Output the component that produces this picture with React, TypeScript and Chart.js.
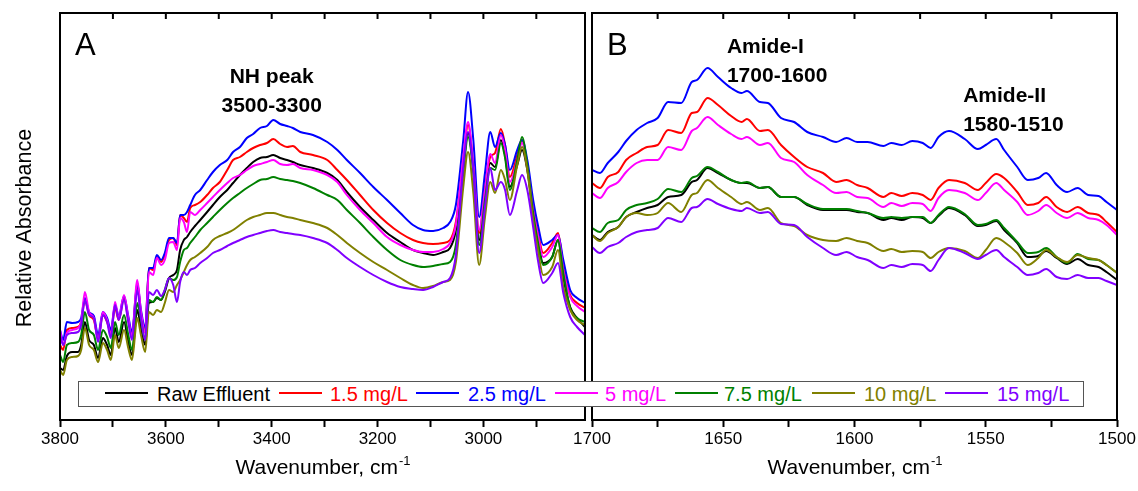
import React, { useEffect, useRef } from "react";
import { Chart, registerables } from "chart.js";

Chart.register(...registerables);

const FONT = '"Liberation Sans", Arial, Helvetica, sans-serif';

const seriesNames = ["Raw Effluent", "1.5 mg/L", "2.5 mg/L", "5 mg/L", "7.5 mg/L", "10 mg/L", "15 mg/L"];
const seriesColors = ["#000000", "#FF0000", "#0000FF", "#FF00FF", "#008000", "#808000", "#8000FF"];

// ---------- Panel A: 3800 - 2808 cm-1 (relative absorbance, arbitrary units) ----------
const ticksA = [3800, 3700, 3600, 3500, 3400, 3300, 3200, 3100, 3000, 2900];
const wavenumberA = [
  3800, 3794, 3787, 3777, 3766, 3760, 3753, 3745, 3736, 3728, 3719, 3711, 3704, 3696, 3689, 3679, 3671, 3664, 3654, 3647,
  3639, 3632, 3624, 3617, 3609, 3602, 3594, 3586, 3579, 3573, 3566, 3560, 3554, 3545, 3535,
  3522, 3511, 3498, 3484, 3473, 3460, 3447, 3435, 3422, 3409, 3397, 3384, 3371, 3360, 3346, 3322, 3295, 3276, 3258, 3233,
  3208, 3182, 3157, 3133, 3114, 3095, 3076, 3063, 3052, 3038, 3029, 3019, 3008, 2997, 2987, 2978, 2967, 2959, 2950, 2936,
  2927, 2917, 2906, 2897, 2887, 2870, 2859, 2849, 2836, 2823, 2808,
];
const rawA = [
  52, 50, 64, 68, 68, 75, 98, 80, 75, 62, 82, 75, 65, 92, 78, 98, 78, 65, 110, 92,
  75, 117, 118, 122, 120, 128, 142, 145, 150, 170, 180, 183, 188, 194, 200,
  208, 215, 223, 230, 237, 245, 252, 258, 262, 263, 265, 262, 260, 258, 255, 252, 247, 240, 228, 213,
  200, 187, 178, 170, 167, 165, 168, 172, 190, 253, 287, 250, 180, 227, 257, 253, 280, 265, 233, 255,
  270, 250, 207, 180, 157, 163, 180, 143, 113, 102, 93,
];
const dose1p5A = [
  75, 70, 90, 92, 93, 98, 120, 105, 100, 82, 105, 98, 87, 112, 100, 122, 100, 85, 135, 107,
  90, 152, 150, 163, 158, 165, 180, 182, 175, 205, 202, 198, 212, 215, 218,
  225, 232, 238, 250, 260, 263, 268, 272, 275, 277, 281, 276, 273, 274, 268, 265, 260, 250, 240, 225,
  210, 197, 187, 180, 177, 176, 177, 180, 198, 260, 295, 255, 187, 233, 263, 267, 291, 275, 243, 265,
  280, 253, 213, 188, 167, 177, 187, 153, 125, 117, 112,
];
const dose2p5A = [
  90, 80, 98, 97, 98, 102, 122, 108, 104, 85, 108, 102, 90, 115, 104, 124, 104, 88, 137, 110,
  92, 152, 152, 165, 160, 167, 182, 182, 177, 205, 205, 208, 215, 225, 230,
  240, 248, 255, 260, 268, 273, 282, 286, 292, 294, 300, 296, 294, 292, 288, 285, 278, 270, 260, 247,
  233, 220, 207, 195, 190, 189, 192, 198, 215, 280, 328, 280, 203, 247, 288, 273, 287, 275, 250, 270,
  280, 260, 220, 195, 175, 180, 185, 160, 130, 122, 117,
];
const dose5A = [
  90, 75, 87, 90, 92, 98, 128, 108, 102, 80, 108, 100, 85, 118, 102, 125, 102, 83, 140, 108,
  87, 148, 145, 162, 155, 160, 177, 178, 170, 202, 198, 188, 208, 205, 210,
  217, 223, 230, 237, 242, 245, 250, 254, 256, 258, 260, 256, 255, 256, 252, 250, 245, 238, 225, 210,
  197, 183, 175, 170, 168, 168, 171, 177, 195, 263, 298, 255, 190, 230, 266, 257, 285, 270, 238, 260,
  277, 253, 210, 185, 163, 173, 185, 150, 123, 114, 108,
];
const dose7p5A = [
  65, 58, 75, 77, 78, 85, 108, 90, 85, 70, 90, 83, 72, 98, 85, 105, 85, 70, 117, 100,
  80, 120, 118, 123, 120, 130, 142, 140, 143, 158, 170, 172, 177, 183, 190,
  197, 203, 210, 217, 222, 227, 232, 236, 240, 241, 243, 241, 240, 239, 237, 232, 225, 220, 210, 197,
  183, 170, 160, 155, 153, 154, 156, 158, 175, 247, 283, 248, 175, 220, 252, 250, 277, 262, 230, 260,
  283, 255, 207, 178, 155, 163, 180, 147, 112, 102, 98,
];
const dose10A = [
  50, 45, 60, 63, 64, 70, 92, 75, 70, 58, 77, 70, 60, 85, 72, 90, 72, 60, 102, 85,
  68, 108, 105, 110, 108, 117, 130, 128, 135, 140, 148, 155, 160, 163, 167,
  173, 180, 184, 187, 190, 195, 200, 203, 205, 207, 207, 205, 203, 202, 200, 197, 192, 185, 177, 167,
  158, 150, 142, 135, 132, 134, 138, 140, 158, 233, 268, 227, 155, 203, 238, 227, 250, 240, 220, 255,
  273, 250, 200, 170, 145, 153, 170, 133, 110, 100, 95,
];
const dose15A = [
  85, 75, 85, 87, 88, 95, 120, 105, 102, 78, 105, 98, 82, 115, 100, 120, 98, 80, 130, 102,
  80, 128, 125, 130, 124, 130, 142, 135, 118, 138, 148, 145, 150, 152, 157,
  162, 167, 170, 174, 177, 180, 183, 185, 187, 189, 190, 188, 187, 186, 185, 182, 177, 170, 162, 153,
  145, 138, 133, 131, 130, 133, 138, 142, 165, 253, 288, 250, 167, 213, 252, 230, 238, 230, 205, 230,
  245, 230, 193, 160, 137, 147, 157, 127, 103, 93, 85,
];

// ---------- Panel B: 1700 - 1500 cm-1 ----------
const ticksB = [1700, 1675, 1650, 1625, 1600, 1575, 1550, 1525, 1500];
const wavenumberB = [
  1700, 1697, 1694, 1690, 1687, 1683, 1679, 1675, 1671, 1666, 1662, 1660, 1656, 1652, 1647, 1643, 1641, 1636, 1633, 1628,
  1623, 1618, 1612, 1607, 1603, 1599, 1595, 1589, 1586, 1582, 1578, 1574, 1571, 1568, 1564, 1558, 1553, 1550, 1546, 1543,
  1538, 1534, 1530, 1527, 1523, 1519, 1515, 1511, 1507, 1504, 1500,
];
const rawB = [
  185, 180, 188, 193, 203, 208, 212, 215, 223, 225, 238, 240, 252, 247, 240, 237, 237, 232, 233, 223,
  223, 215, 210, 210, 210, 208, 207, 200, 202, 200, 203, 202, 197, 204, 212, 205, 194, 195, 199, 190,
  177, 163, 164, 169, 162, 156, 161, 155, 153, 148, 140,
];
const dose1p5B = [
  237, 232, 243, 248, 260, 267, 273, 275, 290, 287, 307, 308, 322, 315, 304, 298, 301, 289, 290, 275,
  263, 253, 247, 238, 240, 235, 232, 223, 227, 224, 227, 225, 220, 232, 240, 237, 230, 237, 246, 242,
  228, 215, 217, 223, 213, 208, 213, 207, 205, 198, 188,
];
const dose2p5B = [
  250, 247, 257, 268, 279, 290, 297, 302, 318, 317, 338, 340, 352, 343, 332, 327, 329, 318, 317, 302,
  298, 288, 283, 278, 282, 278, 278, 274, 277, 275, 279, 277, 272, 283, 289, 281, 271, 275, 281, 270,
  253, 240, 242, 247, 235, 228, 232, 225, 224, 218, 210,
];
const dose5B = [
  227, 222, 232, 238, 248, 257, 260, 260, 273, 270, 289, 292, 303, 295, 286, 281, 283, 275, 277, 262,
  258, 245, 235, 227, 228, 223, 222, 213, 217, 214, 217, 216, 209, 222, 230, 227, 220, 227, 237, 230,
  218, 205, 209, 215, 207, 202, 207, 202, 200, 195, 185,
];
const dose7p5B = [
  192, 188, 197, 200, 210, 215, 217, 221, 231, 228, 242, 244, 253, 248, 240, 237, 238, 232, 233, 223,
  223, 216, 211, 211, 211, 209, 207, 202, 203, 202, 203, 203, 197, 205, 213, 206, 195, 196, 200, 192,
  178, 167, 168, 172, 163, 157, 166, 161, 160, 155, 147,
];
const dose10B = [
  185, 179, 187, 193, 203, 207, 205, 207, 217, 208, 225, 227, 240, 232, 223, 216, 218, 210, 212, 197,
  194, 185, 180, 179, 182, 179, 177, 169, 171, 168, 169, 168, 162, 168, 172, 169, 162, 170, 182, 178,
  167, 155, 162, 170, 163, 158, 165, 162, 160, 155, 147,
];
const dose15B = [
  173, 167, 173, 177, 183, 188, 190, 192, 202, 198, 212, 213, 221, 216, 211, 209, 212, 207, 208, 196,
  195, 183, 172, 165, 168, 163, 160, 152, 155, 153, 156, 155, 149, 160, 172, 167, 161, 165, 170, 163,
  153, 145, 147, 151, 143, 141, 145, 142, 142, 139, 135,
];

const Y_MIN = 0;
const Y_MAX = 407;

type Note = { lines: string[]; x: number; y: number; align: CanvasTextAlign };
type Panel = {
  xs: number[];
  series: number[][];
  min: number;
  max: number;
  tickValues: number[];
  labelStep: number;
  padLeft: number;
  padRight: number;
  letter: string;
  notes: Note[];
  yTitle: boolean;
};

const panelA: Panel = {
  xs: wavenumberA,
  series: [rawA, dose1p5A, dose2p5A, dose5A, dose7p5A, dose10A, dose15A],
  min: 2808,
  max: 3800,
  tickValues: ticksA,
  labelStep: 200,
  padLeft: 60,
  padRight: 4,
  letter: "A",
  notes: [{ lines: ["NH peak", "3500-3300"], x: 3400, y: 337, align: "center" }],
  yTitle: true,
};

const panelB: Panel = {
  xs: wavenumberB,
  series: [rawB, dose1p5B, dose2p5B, dose5B, dose7p5B, dose10B, dose15B],
  min: 1500,
  max: 1700,
  tickValues: ticksB,
  labelStep: 50,
  padLeft: 32,
  padRight: 21,
  letter: "B",
  notes: [
    { lines: ["Amide-I", "1700-1600"], x: 1648.6, y: 367, align: "left" },
    { lines: ["Amide-II", "1580-1510"], x: 1558.6, y: 318, align: "left" },
  ],
  yTitle: false,
};

function decorPlugin(panel: Panel) {
  return {
    id: "panelDecor" + panel.letter,
    afterDatasetsDraw(chart: any) {
      const { ctx, chartArea: ca, scales } = chart;
      const xs = scales.x;
      const ys = scales.y;
      ctx.save();
      // frame
      ctx.strokeStyle = "#000";
      ctx.lineWidth = 2;
      ctx.strokeRect(ca.left, ca.top, ca.right - ca.left, ca.bottom - ca.top);
      // inward ticks on top
      ctx.beginPath();
      xs.ticks.forEach((t: any) => {
        const px = xs.getPixelForValue(t.value);
        ctx.moveTo(px, ca.top);
        ctx.lineTo(px, ca.top + 6);
      });
      ctx.stroke();
      // panel letter
      ctx.fillStyle = "#000";
      ctx.textBaseline = "alphabetic";
      ctx.textAlign = "left";
      ctx.font = `31px ${FONT}`;
      ctx.fillText(panel.letter, ca.left + 15, ca.top + 42);
      // annotations
      ctx.font = `bold 21px ${FONT}`;
      panel.notes.forEach((n) => {
        ctx.textAlign = n.align;
        const px = xs.getPixelForValue(n.x);
        const py = ys.getPixelForValue(n.y);
        n.lines.forEach((line, i) => ctx.fillText(line, px, py + i * 29));
      });
      // x title with superscript
      const main = "Wavenumber, cm";
      const sup = "-1";
      ctx.font = `21px ${FONT}`;
      const w1 = ctx.measureText(main).width;
      ctx.font = `13px ${FONT}`;
      const w2 = ctx.measureText(sup).width;
      const cx = (ca.left + ca.right) / 2;
      const x0 = cx - (w1 + w2) / 2;
      const base = ca.bottom + 54;
      ctx.textAlign = "left";
      ctx.font = `21px ${FONT}`;
      ctx.fillText(main, x0, base);
      ctx.font = `13px ${FONT}`;
      ctx.fillText(sup, x0 + w1 + 1, base - 9);
      // y title
      if (panel.yTitle) {
        ctx.save();
        ctx.translate(31, 228);
        ctx.rotate(-Math.PI / 2);
        ctx.textAlign = "center";
        ctx.font = `21.5px ${FONT}`;
        ctx.fillText("Relative Absorbance", 0, 0);
        ctx.restore();
      }
      ctx.restore();
    },
  };
}

function buildChart(canvas: HTMLCanvasElement, panel: Panel) {
  return new Chart(canvas, {
    type: "line",
    data: {
      datasets: panel.series.map((vals, i) => ({
        label: seriesNames[i],
        data: panel.xs.map((x, j) => ({ x, y: vals[j] })),
        borderColor: seriesColors[i],
        backgroundColor: seriesColors[i],
        borderWidth: 2,
        pointRadius: 0,
        cubicInterpolationMode: "monotone" as const,
        fill: false,
        order: seriesNames.length - 1 - i,
      })),
    },
    options: {
      animation: false,
      responsive: false,
      devicePixelRatio: 1,
      events: [],
      layout: { padding: { left: panel.padLeft, right: panel.padRight, top: 13, bottom: 0 } },
      plugins: { legend: { display: false }, tooltip: { enabled: false } },
      scales: {
        x: {
          type: "linear",
          reverse: true,
          min: panel.min,
          max: panel.max,
          afterBuildTicks: (s: any) => {
            s.ticks = panel.tickValues.map((v) => ({ value: v }));
          },
          afterFit: (s: any) => {
            s.height = 71;
          },
          border: { display: false },
          grid: {
            drawOnChartArea: false,
            drawTicks: true,
            tickLength: 7,
            tickWidth: 2,
            tickColor: "#000",
            color: "#000",
          },
          ticks: {
            autoSkip: false,
            maxRotation: 0,
            minRotation: 0,
            padding: 2,
            color: "#000",
            font: { family: FONT, size: 17 },
            callback: (v: any) => (Number(v) % panel.labelStep === 0 ? String(v) : ""),
          },
        },
        y: { display: false, min: Y_MIN, max: Y_MAX },
      },
    },
    plugins: [decorPlugin(panel)],
  } as any);
}

const legendLineX = [105, 279, 416, 555, 675, 812, 945];
const legendTextX = [157, 330, 468, 605, 724, 864, 997];

export default function App() {
  const refA = useRef<HTMLCanvasElement>(null);
  const refB = useRef<HTMLCanvasElement>(null);

  useEffect(() => {
    const a = buildChart(refA.current!, panelA);
    const b = buildChart(refB.current!, panelB);
    return () => {
      a.destroy();
      b.destroy();
    };
  }, []);

  return (
    <div style={{ position: "absolute", left: 0, top: 0, width: 1138, height: 491, background: "#fff", overflow: "hidden" }}>
      <canvas ref={refA} width={589} height={491} style={{ position: "absolute", left: 0, top: 0, width: 589, height: 491 }} />
      <canvas ref={refB} width={578} height={491} style={{ position: "absolute", left: 560, top: 0, width: 578, height: 491 }} />
      <div
        style={{
          position: "absolute",
          left: 78,
          top: 381,
          width: 1006,
          height: 26,
          boxSizing: "border-box",
          border: "1px solid #555",
          background: "#fff",
        }}
      />
      {seriesNames.map((name, i) => (
        <React.Fragment key={name}>
          <div
            style={{
              position: "absolute",
              left: legendLineX[i],
              top: 392,
              width: 43,
              height: 2,
              background: seriesColors[i],
            }}
          />
          <div
            style={{
              position: "absolute",
              left: legendTextX[i],
              top: 381,
              height: 26,
              lineHeight: "26px",
              fontFamily: FONT,
              fontSize: 20,
              color: seriesColors[i],
              whiteSpace: "nowrap",
            }}
          >
            {name}
          </div>
        </React.Fragment>
      ))}
    </div>
  );
}
